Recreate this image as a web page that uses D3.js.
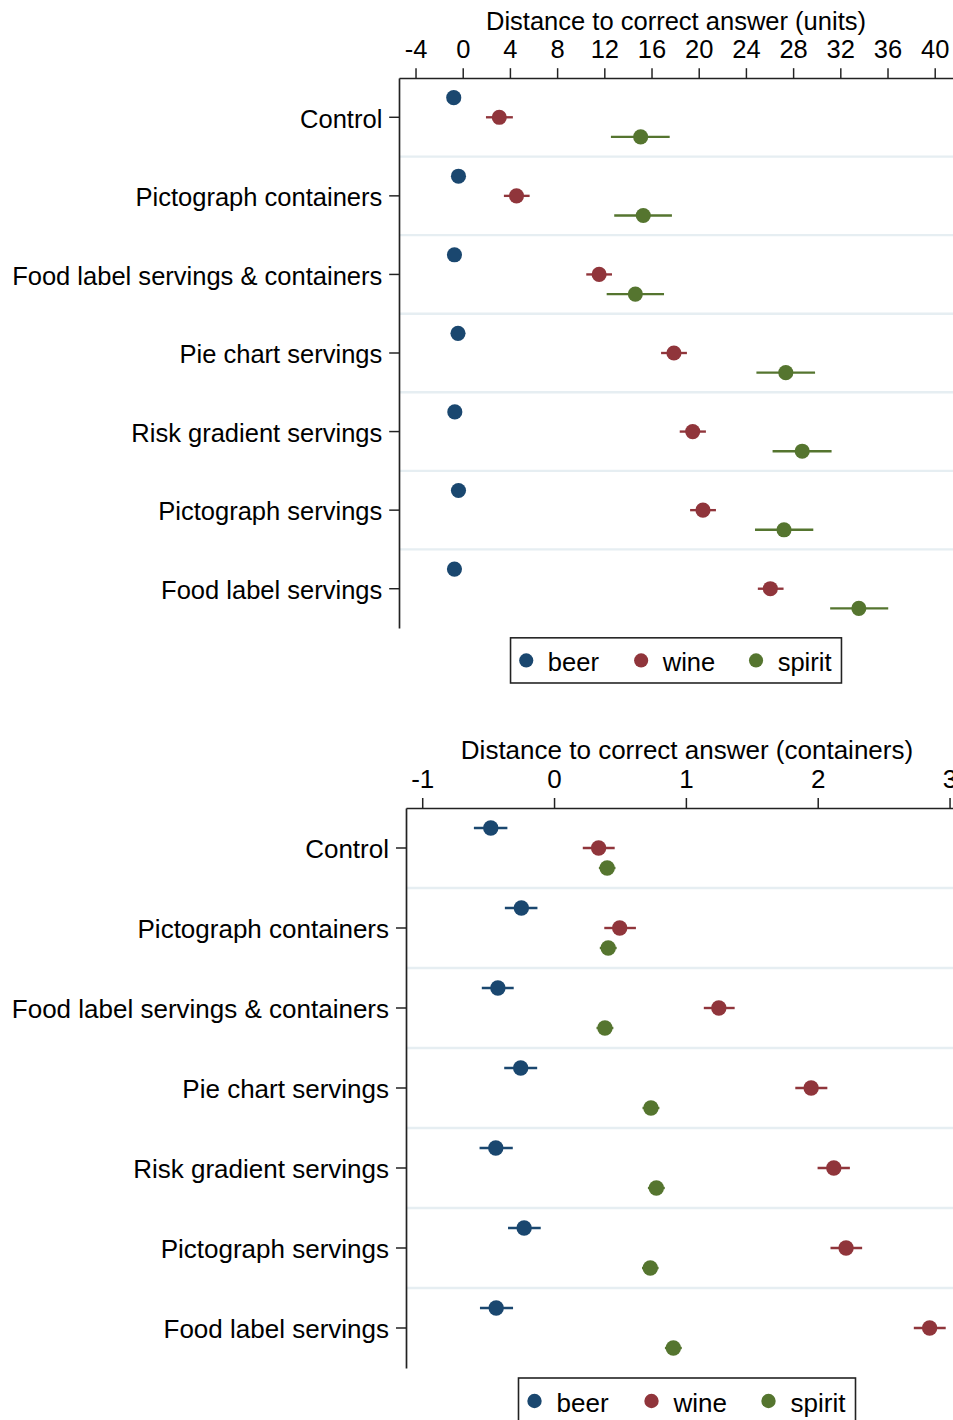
<!DOCTYPE html>
<html>
<head>
<meta charset="utf-8">
<script src="https://cdn.jsdelivr.net/npm/d3@7"></script>
<style>
  html, body { margin: 0; padding: 0; background: #fff; }
  svg { display: block; font-family: "Liberation Sans", Arial, sans-serif; }
</style>
</head>
<body>
<svg id="chart" width="953" height="1420"></svg>
<script>
// Intervention arms (rows, top to bottom)
const categories = [
  "Control",
  "Pictograph containers",
  "Food label servings & containers",
  "Pie chart servings",
  "Risk gradient servings",
  "Pictograph servings",
  "Food label servings"
];
const drinks = ["beer", "wine", "spirit"];
const drinkColors = ["#1a476f", "#90353b", "#55752f"];

// Panel 1: distance to correct answer in units (estimate, lower CI, upper CI)
const unitTicks = [-4, 0, 4, 8, 12, 16, 20, 24, 28, 32, 36, 40];
const beerUnits   = [-0.76, -0.36, -0.70, -0.40, -0.67, -0.36, -0.70];
const beerUnitsLo = [-1.00, -0.60, -0.94, -0.64, -0.91, -0.60, -0.94];
const beerUnitsHi = [-0.52, -0.12, -0.46, -0.16, -0.43, -0.12, -0.46];
const wineUnits   = [3.10, 4.56, 11.56, 17.90, 19.49, 20.36, 26.07];
const wineUnitsLo = [1.97, 3.49, 10.47, 16.81, 18.39, 19.27, 25.01];
const wineUnitsHi = [4.25, 5.67, 12.65, 19.00, 20.61, 21.46, 27.19];
const spiritUnits   = [15.08, 15.30, 14.63, 27.38, 28.77, 27.23, 33.57];
const spiritUnitsLo = [12.56, 12.84, 12.20, 24.89, 26.26, 24.77, 31.14];
const spiritUnitsHi = [17.54, 17.73, 17.06, 29.86, 31.26, 29.71, 36.06];

// Panel 2: distance to correct answer in containers
const containerTicks = [-1, 0, 1, 2, 3];
const beerCont   = [-0.480, -0.248, -0.426, -0.253, -0.442, -0.227, -0.439];
const beerContLo = [-0.608, -0.373, -0.548, -0.378, -0.565, -0.349, -0.562];
const beerContHi = [-0.354, -0.126, -0.306, -0.128, -0.313, -0.101, -0.311];
const wineCont   = [0.338, 0.498, 1.250, 1.950, 2.122, 2.215, 2.849];
const wineContLo = [0.218, 0.381, 1.136, 1.830, 1.999, 2.097, 2.729];
const wineContHi = [0.460, 0.621, 1.370, 2.073, 2.244, 2.337, 2.971];
const spiritCont   = [0.403, 0.411, 0.386, 0.735, 0.776, 0.730, 0.905];
const spiritContLo = [0.340, 0.347, 0.322, 0.671, 0.712, 0.667, 0.841];
const spiritContHi = [0.466, 0.475, 0.450, 0.799, 0.840, 0.793, 0.969];

const svg = d3.select("#chart");

function rows(est, lo, hi) {
  return categories.map((c, i) => ({ cat: c, est: est[i], lo: lo[i], hi: hi[i] }));
}

function drawPanel(opt) {
  const s = opt.scale;
  const fs = 26 * s;
  const g = svg.append("g");

  const x = d3.scaleLinear().domain(opt.domain).range([opt.left, opt.right]);
  const y = d3.scaleBand().domain(categories).range([opt.top, opt.bottom]).padding(0);
  const bw = y.bandwidth();

  // horizontal separators between rows
  g.append("g").selectAll("line")
    .data(categories.slice(1))
    .join("line")
    .attr("x1", opt.left).attr("x2", opt.right)
    .attr("y1", d => y(d)).attr("y2", d => y(d))
    .attr("stroke", "#e6eef2")
    .attr("stroke-width", 2.4 * s);

  // series: CI whiskers + point estimates
  opt.series.forEach((ser, si) => {
    const off = (si - 1) * bw * 0.25;
    const sg = g.append("g");
    sg.selectAll("line")
      .data(ser.rows)
      .join("line")
      .attr("x1", d => x(d.lo)).attr("x2", d => x(d.hi))
      .attr("y1", d => y(d.cat) + bw / 2 + off)
      .attr("y2", d => y(d.cat) + bw / 2 + off)
      .attr("stroke", drinkColors[si])
      .attr("stroke-width", 2.4 * s);
    sg.selectAll("circle")
      .data(ser.rows)
      .join("circle")
      .attr("cx", d => x(d.est))
      .attr("cy", d => y(d.cat) + bw / 2 + off)
      .attr("r", 7.7 * s)
      .attr("fill", drinkColors[si]);
  });

  // top x axis
  const xa = g.append("g")
    .attr("transform", `translate(0,${opt.top})`)
    .call(d3.axisTop(x).tickValues(opt.ticks).tickFormat(d3.format("d"))
      .tickSize(10 * s).tickSizeOuter(0).tickPadding(10 * s));
  xa.select(".domain").attr("stroke", "#222").attr("stroke-width", 1.7 * s);
  xa.selectAll(".tick line").attr("stroke", "#222").attr("stroke-width", 1.5 * s);
  xa.selectAll(".tick text").attr("font-size", fs).attr("fill", "#000")
    .attr("font-family", "Liberation Sans, Arial, sans-serif")
    .text(d => d < 0 ? "-" + Math.abs(d) : d);

  // x axis title
  g.append("text")
    .attr("x", (opt.left + opt.right) / 2)
    .attr("y", opt.top - 49 * s)
    .attr("text-anchor", "middle")
    .attr("font-size", fs)
    .attr("fill", "#000")
    .text(opt.title);

  // left y axis
  const ya = g.append("g")
    .attr("transform", `translate(${opt.left},0)`)
    .call(d3.axisLeft(y).tickSize(10 * s).tickSizeOuter(0).tickPadding(7 * s));
  ya.select(".domain").attr("stroke", "#222").attr("stroke-width", 1.7 * s);
  ya.selectAll(".tick line").attr("stroke", "#222").attr("stroke-width", 1.5 * s);
  ya.selectAll(".tick text").attr("font-size", fs).attr("fill", "#000")
    .attr("dy", "0.4em")
    .attr("font-family", "Liberation Sans, Arial, sans-serif");

  // legend
  const lcx = (opt.left + opt.right) / 2;
  const lx0 = lcx - 168.5 * s;
  const ly0 = opt.bottom + 10 * s;
  const lh = 46 * s;
  const lg = g.append("g");
  lg.append("rect")
    .attr("x", lx0).attr("y", ly0)
    .attr("width", 337 * s).attr("height", lh)
    .attr("fill", "#fff").attr("stroke", "#222").attr("stroke-width", 1.6 * s);
  const items = lg.selectAll("g.item")
    .data(drinks)
    .join("g")
    .attr("class", "item")
    .attr("transform", (d, i) => `translate(${lx0 + (16 + 117 * i) * s},${ly0 + 23 * s})`);
  items.append("circle").attr("r", 7.2 * s).attr("fill", (d, i) => drinkColors[i]);
  items.append("text")
    .attr("x", 22 * s).attr("y", 0).attr("dy", "0.42em")
    .attr("font-size", fs).attr("fill", "#000")
    .text(d => d);
}

drawPanel({
  scale: 0.982,
  left: 399, right: 953, top: 78, bottom: 628,
  domain: [-5.4, 41.55],
  ticks: unitTicks,
  title: "Distance to correct answer (units)",
  series: [
    { rows: rows(beerUnits, beerUnitsLo, beerUnitsHi) },
    { rows: rows(wineUnits, wineUnitsLo, wineUnitsHi) },
    { rows: rows(spiritUnits, spiritUnitsLo, spiritUnitsHi) }
  ]
});

drawPanel({
  scale: 1.0,
  left: 406, right: 968, top: 808, bottom: 1368,
  domain: [-1.123, 3.14],
  ticks: containerTicks,
  title: "Distance to correct answer (containers)",
  series: [
    { rows: rows(beerCont, beerContLo, beerContHi) },
    { rows: rows(wineCont, wineContLo, wineContHi) },
    { rows: rows(spiritCont, spiritContLo, spiritContHi) }
  ]
});
</script>
</body>
</html>
